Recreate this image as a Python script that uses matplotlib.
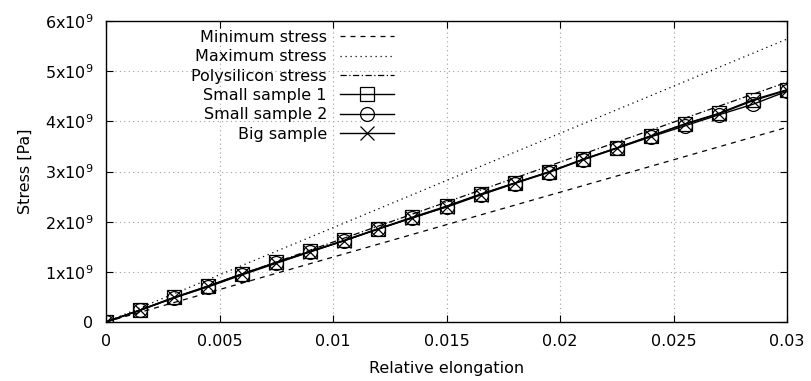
import numpy as np
from matplotlib import pyplot as plt

plt.rcParams['font.family'] = 'DejaVu Sans'
plt.rcParams['mathtext.default'] = 'regular'

# relative elongation of the measured samples
strain = [0, 0.0015, 0.003, 0.0045, 0.006, 0.0075, 0.009, 0.0105, 0.012, 0.0135,
          0.015, 0.0165, 0.018, 0.0195, 0.021, 0.0225, 0.024, 0.0255, 0.027, 0.0285, 0.03]

# stresses in units of 1e9 Pa
small_1 = [0, 0.24, 0.49, 0.72, 0.96, 1.19, 1.41, 1.63, 1.86, 2.09, 2.31,
           2.55, 2.77, 2.99, 3.24, 3.47, 3.71, 3.95, 4.16, 4.43, 4.63]
small_2 = [0, 0.23, 0.48, 0.70, 0.94, 1.17, 1.40, 1.62, 1.85, 2.08, 2.29,
           2.53, 2.76, 2.98, 3.23, 3.46, 3.69, 3.91, 4.13, 4.34, 4.60]
big = [0, 0.24, 0.49, 0.71, 0.96, 1.18, 1.40, 1.62, 1.86, 2.07, 2.30,
       2.54, 2.77, 2.99, 3.24, 3.47, 3.71, 3.94, 4.15, 4.41, 4.62]

# theoretical lines (end points)
line_x = [0, 0.03]
min_stress = [0, 3.88]
max_stress = [0, 5.64]
poly_stress = [0, 4.78]

xticks = [0, 0.005, 0.01, 0.015, 0.02, 0.025, 0.03]
xtick_labels = ['0', '0.005', '0.01', '0.015', '0.02', '0.025', '0.03']
yticks = [0, 1, 2, 3, 4, 5, 6]
ytick_labels = ['0'] + ['%dx10$^9$' % v for v in yticks[1:]]

fig = plt.figure(figsize=(8.11, 3.81), dpi=100)
ax = fig.add_axes([106 / 811, 59 / 381, 681 / 811, 301 / 381])

scale = 1e9
ax.plot(line_x, np.array(min_stress) * scale, color='black', lw=0.9,
        dashes=(4, 4), label='Minimum stress')
ax.plot(line_x, np.array(max_stress) * scale, color='black', lw=0.9,
        dashes=(1, 3), label='Maximum stress')
ax.plot(line_x, np.array(poly_stress) * scale, color='black', lw=0.9,
        dashes=(5, 2, 1, 2), label='Polysilicon stress')
ax.plot(strain, np.array(small_1) * scale, color='black', lw=1.0, marker='s',
        ms=10, mfc='none', mec='black', mew=0.9, label='Small sample 1')
ax.plot(strain, np.array(small_2) * scale, color='black', lw=1.0, marker='o',
        ms=10, mfc='none', mec='black', mew=0.9, label='Small sample 2')
ax.plot(strain, np.array(big) * scale, color='black', lw=1.0, marker='x',
        ms=10, mec='black', mew=0.9, label='Big sample')

ax.set_xlim(0, 0.03)
ax.set_ylim(0, 6 * scale)
ax.set_xticks(xticks)
ax.set_xticklabels(xtick_labels)
ax.set_yticks([v * scale for v in yticks])
ax.set_yticklabels(ytick_labels)

ax.tick_params(direction='in', top=True, right=True, length=5, width=0.8,
               labelsize=11.5, pad=9)
ax.grid(True, color='#a0a0a0', linestyle=(0, (1, 3)), lw=0.8)
for s in ax.spines.values():
    s.set_linewidth(1.0)

ax.set_xlabel('Relative elongation', fontsize=11.5, labelpad=8)
ax.set_ylabel('Stress [Pa]', fontsize=11.5, labelpad=9)

ax.legend(loc='upper right', bbox_to_anchor=(394 / 811, 1 - 30 / 381),
          bbox_transform=fig.transFigure, frameon=False, markerfirst=False,
          fontsize=11.5, handlelength=3.4, labelspacing=0.27, handletextpad=0.8,
          borderaxespad=0, borderpad=0)

fig.savefig('out.png', dpi=100)
